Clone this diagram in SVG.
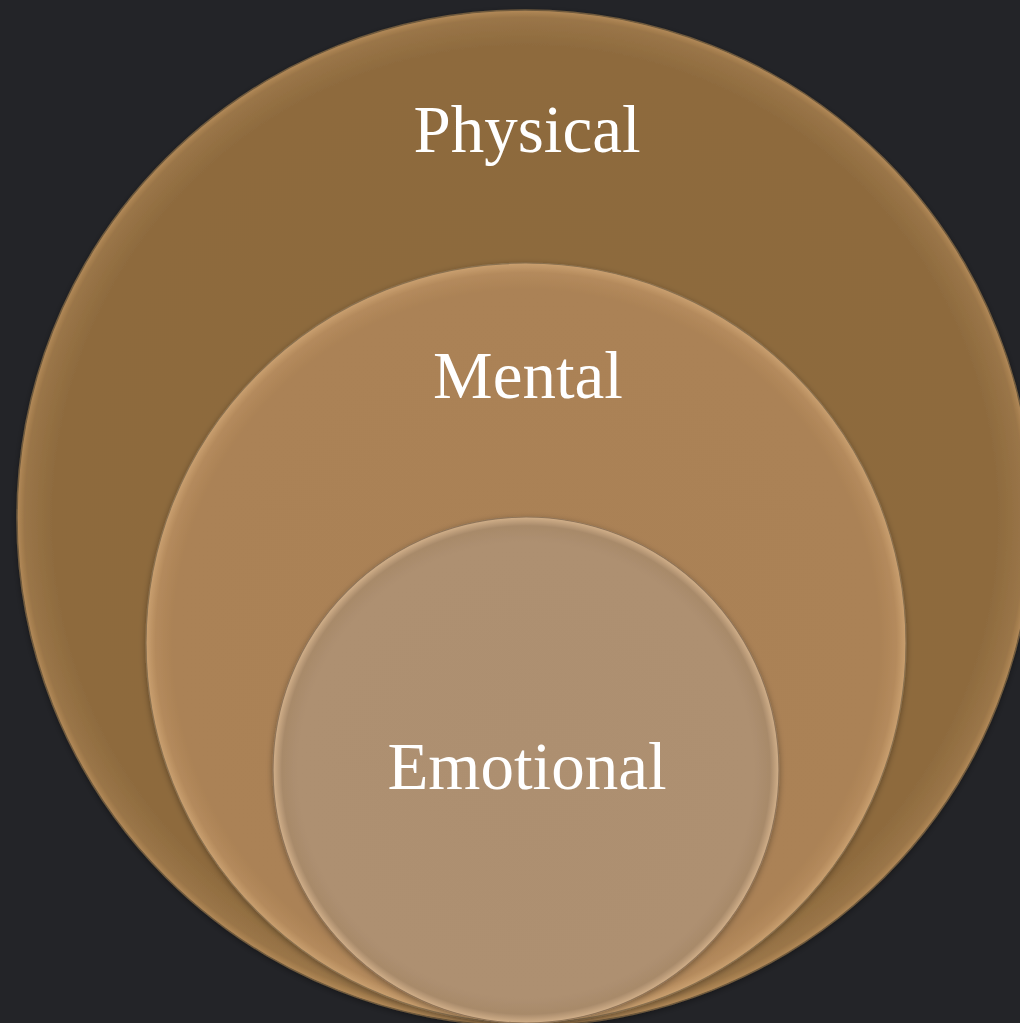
<svg xmlns="http://www.w3.org/2000/svg" width="1020" height="1023" viewBox="0 0 1020 1023">
<style>
.lbl{font-family:"Liberation Serif","DejaVu Serif",serif;font-size:67px;fill:#ffffff;text-anchor:middle}
</style>
<defs>
<radialGradient id="gOuter" cx="0.5" cy="0.5" r="0.5">
<stop offset="0" stop-color="#8c6a3d"/>
<stop offset="0.93" stop-color="#8e6b3e"/>
<stop offset="0.985" stop-color="#9a7548"/>
<stop offset="1" stop-color="#b38a58"/>
</radialGradient>
<radialGradient id="gMid" cx="0.5" cy="0.5" r="0.5">
<stop offset="0" stop-color="#aa8155"/>
<stop offset="0.93" stop-color="#ab8256"/>
<stop offset="0.975" stop-color="#b48a5c"/>
<stop offset="1" stop-color="#caa070"/>
</radialGradient>
<radialGradient id="gIn" cx="0.5" cy="0.5" r="0.5">
<stop offset="0" stop-color="#ad8f70"/>
<stop offset="0.9" stop-color="#ae9071"/>
<stop offset="0.965" stop-color="#a88a6a"/>
<stop offset="1" stop-color="#d2b08a"/>
</radialGradient>
<filter id="sh" x="-10%" y="-10%" width="120%" height="120%">
<feDropShadow dx="0" dy="2" stdDeviation="3" flood-color="#000" flood-opacity="0.35"/>
</filter>
</defs>
<rect x="0" y="0" width="1020" height="1023" fill="#232428"/>
<g id="physical">
<circle cx="525" cy="518" r="508" fill="url(#gOuter)" stroke="#6f5a3e" stroke-width="1.5" filter="url(#sh)"/>
<text class="lbl" x="527" y="152">Physical</text>
</g>
<g id="mental">
<circle cx="526" cy="643" r="380" fill="url(#gMid)" stroke="#8a7150" stroke-width="1.2" filter="url(#sh)"/>
<text class="lbl" x="528" y="398">Mental</text>
</g>
<g id="emotional">
<circle cx="526" cy="770" r="253" fill="url(#gIn)" stroke="#8f7458" stroke-width="1.2" filter="url(#sh)"/>
<text class="lbl" x="527" y="789">Emotional</text>
</g>
<g id="connectors"></g>
</svg>
